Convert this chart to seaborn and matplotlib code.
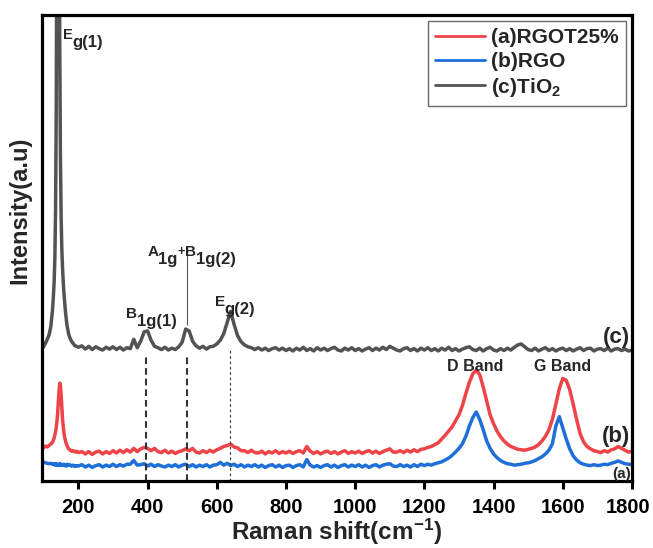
import numpy as np
import pandas as pd
import matplotlib
matplotlib.use("Agg")
import matplotlib.pyplot as plt
from matplotlib.transforms import ScaledTranslation
import seaborn as sns

# Raman shift sampling grid (cm^-1): finer around the strong 140-150 cm^-1 modes
shift = np.concatenate([
    np.arange(95, 126, 5),     # 7 points
    np.arange(128, 173, 2),    # 23 points
    np.arange(175, 201, 5),    # 6 points
    np.arange(210, 1801, 10),  # 160 points
])

# (a) RGOT25% intensities
rgot25 = [
    7.4, 7.2, 7.5, 7.3, 7.6, 7.9, 8.3,
    8.8, 9.3, 9.9, 10.6, 11.5, 12.8, 14.5, 16.8, 19.3, 21.0, 20.6, 18.5,
    15.8, 13.5, 11.8, 10.5, 9.5, 8.8, 8.2, 7.8, 7.4, 7.1, 6.9,
    6.7, 6.4, 6.5, 6.2, 6.4, 6.1,
    6.3, 5.8, 6.3, 5.7, 6.2, 6.4, 5.8, 6.3, 5.9, 6.5,      # 210-300
    6.0, 6.6, 6.1, 6.7, 6.2, 7.0, 6.3, 6.9, 7.2, 7.0,      # 310-400
    6.5, 7.0, 6.3, 6.1, 6.6, 6.0, 6.4, 5.9, 6.3, 6.5,      # 410-500
    6.9, 6.5, 7.0, 6.2, 6.0, 6.5, 6.1, 6.6, 6.2, 6.7,      # 510-600
    7.0, 7.4, 7.6, 7.9, 7.3, 7.1, 6.5, 6.5, 6.1, 6.6,      # 610-700
    6.1, 6.0, 6.4, 5.8, 6.3, 6.0, 6.5, 5.9, 6.3, 6.0,      # 710-800
    6.4, 5.9, 6.3, 6.5, 6.0, 7.4, 6.4, 5.9, 6.3, 5.8,      # 810-900
    6.2, 6.4, 5.9, 6.3, 5.8, 6.2, 6.5, 5.9, 6.3, 6.0,      # 910-1000
    6.4, 5.9, 6.3, 6.5, 6.0, 6.4, 5.9, 6.3, 6.6, 6.9,      # 1010-1100
    6.2, 6.2, 6.5, 6.1, 6.6, 6.2, 6.7, 6.3, 6.8, 6.9,      # 1110-1200
    7.2, 7.4, 7.8, 8.2, 9.0, 9.8, 10.7, 11.6, 12.9, 14.2,  # 1210-1300
    16.2, 18.8, 21.2, 23.0, 23.8, 22.8, 20.2, 17.2, 14.2, 12.3,  # 1310-1400
    10.7, 9.5, 8.6, 7.9, 7.4, 7.1, 6.8, 6.7, 6.6, 6.8,     # 1410-1500
    7.0, 7.3, 7.8, 8.6, 9.6, 11.0, 13.2, 16.5, 19.8, 22.0,  # 1510-1600
    21.6, 19.6, 16.5, 13.2, 10.2, 8.4, 7.4, 6.9, 6.5, 6.3,  # 1610-1700
    6.1, 6.5, 6.2, 6.7, 6.9, 7.4, 7.0, 6.6, 6.2, 6.4,      # 1710-1800
]

# (b) RGO intensities
rgo = [
    4.2, 4.0, 3.9, 3.8, 3.7, 3.8, 3.6,
    3.7, 3.5, 3.6, 3.4, 3.7, 3.5, 3.6, 3.3, 3.5, 3.7, 3.4, 3.6,
    3.3, 3.5, 3.4, 3.6, 3.3, 3.5, 3.2, 3.4, 3.6, 3.3, 3.4,
    3.5, 3.2, 3.4, 3.1, 3.3, 3.2,
    3.5, 3.0, 3.4, 2.9, 3.3, 3.5, 3.0, 3.4, 3.1, 3.6,      # 210-300
    3.1, 3.5, 3.2, 3.6, 3.6, 4.4, 3.4, 3.5, 3.7, 3.2,      # 310-400
    3.6, 3.1, 3.5, 3.2, 3.0, 3.4, 3.1, 3.5, 3.0, 3.4,      # 410-500
    3.6, 3.1, 3.5, 3.0, 3.4, 3.1, 3.5, 3.0, 3.4, 3.5,      # 510-600
    4.0, 3.4, 3.8, 3.3, 3.6, 3.1, 3.5, 3.0, 3.4, 3.1,      # 610-700
    3.5, 3.0, 3.4, 2.9, 3.3, 3.5, 3.0, 3.4, 2.9, 3.3,      # 710-800
    3.4, 2.9, 3.3, 3.5, 3.0, 4.6, 3.4, 3.0, 3.3, 2.9,      # 810-900
    3.3, 3.5, 3.0, 3.4, 2.9, 3.3, 3.5, 3.0, 3.4, 3.1,      # 910-1000
    3.5, 3.0, 3.4, 2.9, 3.3, 3.5, 3.0, 3.4, 3.6, 3.7,      # 1010-1100
    3.2, 3.1, 3.5, 3.1, 3.4, 3.0, 3.5, 3.1, 3.6, 3.3,      # 1110-1200
    3.6, 3.4, 3.7, 3.9, 4.1, 4.5, 4.9, 5.5, 6.2, 7.0,      # 1210-1300
    8.0, 9.6, 11.8, 13.6, 14.8, 13.2, 11.0, 8.6, 7.0, 5.8,  # 1310-1400
    5.0, 4.4, 4.0, 3.7, 3.6, 3.4, 3.5, 3.6, 3.8, 3.9,      # 1410-1500
    4.1, 4.4, 4.8, 5.2, 5.8, 6.6, 8.0, 11.8, 13.8, 11.4,   # 1510-1600
    9.0, 6.9, 5.4, 4.5, 3.9, 3.6, 3.4, 3.3, 3.5, 3.3,      # 1610-1700
    3.4, 3.6, 3.5, 3.8, 4.0, 4.3, 4.0, 3.7, 3.6, 3.5,      # 1710-1800
]

# (c) TiO2 intensities (the 140 cm^-1 Eg(1) peak runs off the top)
tio2 = [
    28.4, 28.9, 29.6, 30.4, 31.3, 33.0, 36.5,
    40.0, 43.0, 48.0, 58.0, 80.0, 130.0, 200.0, 190.0, 140.0, 95.0, 70.0, 57.0,
    50.0, 46.0, 43.0, 40.5, 38.5, 36.8, 35.3, 34.0, 33.0, 32.2, 31.5,
    30.8, 30.0, 29.5, 29.0, 28.9, 28.7,
    29.0, 28.3, 28.9, 28.2, 28.8, 28.4, 28.1, 28.7, 28.3, 28.8,  # 210-300
    28.2, 28.7, 28.1, 28.6, 28.4, 30.4, 28.6, 30.0, 32.0, 32.2,  # 310-400
    30.2, 28.9, 28.6, 28.2, 28.7, 28.1, 28.5, 28.2, 28.8, 29.8,  # 410-500
    32.6, 32.2, 30.0, 29.0, 28.5, 28.9, 28.3, 28.8, 28.9, 29.4,  # 510-600
    30.2, 31.6, 34.0, 36.4, 33.6, 31.2, 29.9, 29.2, 28.8, 28.6,  # 610-700
    28.2, 28.6, 28.1, 28.5, 28.0, 28.4, 28.6, 28.1, 28.5, 28.0,  # 710-800
    28.4, 27.9, 28.5, 28.1, 28.7, 28.0, 28.4, 27.9, 28.6, 28.1,  # 810-900
    28.5, 28.0, 28.4, 28.7, 28.1, 27.9, 28.5, 28.1, 28.6, 28.0,  # 910-1000
    28.4, 27.9, 28.3, 28.6, 28.0, 28.5, 28.1, 28.7, 28.2, 28.9,  # 1010-1100
    28.5, 28.1, 27.9, 28.4, 28.6, 28.0, 28.4, 27.9, 28.5, 28.1,  # 1110-1200
    28.6, 28.0, 28.4, 27.9, 28.5, 28.1, 28.7, 28.0, 28.4, 27.9,  # 1210-1300
    28.3, 28.6, 28.8, 28.2, 28.0, 28.5, 27.9, 28.4, 28.7, 28.1,  # 1310-1400
    27.9, 28.4, 28.0, 28.5, 28.1, 28.7, 29.2, 29.4, 28.8, 28.2,  # 1410-1500
    28.0, 28.5, 27.9, 28.3, 28.6, 28.0, 28.4, 27.9, 28.3, 28.5,  # 1510-1600
    28.0, 28.4, 27.9, 28.3, 28.6, 28.0, 28.4, 28.5, 27.9, 28.3,  # 1610-1700
    28.4, 28.0, 28.5, 27.9, 28.3, 28.4, 28.0, 28.3, 27.9, 28.1,  # 1710-1800
]

series_names = ["(a)RGOT25%", "(b)RGO", "(c)TiO$_2$"]
series_colors = ["#EE4447", "#1F6FD8", "#535353"]

# TiO2 anatase mode positions marked by guide lines (cm^-1)
mode_b1g1 = 394
mode_a1g = 513
mode_eg2 = 637

xticks = [200, 400, 600, 800, 1000, 1200, 1400, 1600, 1800]

sns.set_style("ticks")
plt.rcParams["font.family"] = ["Liberation Sans", "DejaVu Sans"]
plt.rcParams["font.weight"] = "bold"
plt.rcParams["mathtext.default"] = "regular"

df = pd.DataFrame({"shift": shift, "a": rgot25, "b": rgo, "c": tio2})

fig = plt.figure(figsize=(6.53, 5.48), dpi=100)
ax = fig.add_axes([0.0639, 0.1223, 0.9039, 0.8503])

for col, name, color in zip(["a", "b", "c"], series_names, series_colors):
    sns.lineplot(data=df, x="shift", y=col, ax=ax, color=color, lw=2.5,
                 label=name, estimator=None)

ax.set_xlim(94, 1800)
ax.set_ylim(0, 100)
ax.set_xticks(xticks)
ax.set_xticklabels([str(t) for t in xticks])
ax.set_yticks([])

for side in ["left", "right", "top", "bottom"]:
    ax.spines[side].set_visible(True)
    ax.spines[side].set_linewidth(2.3)
    ax.spines[side].set_color("black")
ax.tick_params(axis="x", direction="out", length=6, width=2.2, pad=6,
               labelsize=14.5, colors="black")
for lab in ax.get_xticklabels():
    lab.set_fontweight("bold")
# keep the last label inside the figure edge
last = ax.get_xticklabels()[-1]
last.set_transform(last.get_transform()
                   + ScaledTranslation(-3 / 72, 0, fig.dpi_scale_trans))

ax.set_xlabel("Raman shift(cm$^{-1}$)", fontsize=17.5, fontweight="bold")
ax.xaxis.set_label_coords(0.5, -0.076)
ax.set_ylabel("Intensity(a.u)", fontsize=17, fontweight="bold")
ax.yaxis.set_label_coords(-0.018, 0.58)

leg = ax.legend(loc="upper right", bbox_to_anchor=(0.99, 0.987), fontsize=15,
                frameon=True, fancybox=False, edgecolor="#444444",
                handlelength=2.4, handletextpad=0.3, borderpad=0.35,
                labelspacing=0.22, borderaxespad=0)
leg.get_frame().set_linewidth(1.0)
for txt in leg.get_texts():
    txt.set_fontweight("bold")
for line in leg.get_lines():
    line.set_linewidth(2.0)

# guide lines for the anatase modes
guide_color = "#333333"
ax.vlines([mode_b1g1, mode_a1g], 0, 27, colors=guide_color, lw=1.5,
          linestyles=[(0, (3.2, 1.9))])
ax.vlines([mode_eg2], 0, 28.5, colors=guide_color, lw=0.8,
          linestyles=[(0, (2.4, 2.4))])
ax.vlines([mode_a1g], 33.5, 48.5, colors="#555555", lw=0.8)


def chained_label(x, y, parts):
    """Draw text pieces one after another; each piece is (text, size, dy)."""
    first, size0, _ = parts[0]
    prev = ax.text(x, y, first, fontsize=size0, fontweight="bold",
                   ha="left", va="baseline")
    for text, size, dy in parts[1:]:
        prev = ax.annotate(text, xy=(1, y), xycoords=(prev, "data"),
                           xytext=(0, dy), textcoords="offset points",
                           fontsize=size, fontweight="bold",
                           ha="left", va="baseline")


chained_label(155, 94.8, [("E", 10.5, 0), ("g(1)", 12, -5.5)])
chained_label(339, 35.0, [("B", 11, 0), ("1g(1)", 12, -5.5)])
chained_label(399, 48.2, [("A", 11, 0), ("1g", 12, -5.5), ("+", 9, 1.0),
                          ("B", 11, 0), ("1g(2)", 12, -5.5)])
chained_label(594, 37.5, [("E", 11, 0), ("g(2)", 12, -5.5)])

ax.text(1348, 23.6, "D Band", fontsize=11.5, fontweight="bold",
        ha="center", va="baseline")
ax.text(1600, 23.6, "G Band", fontsize=11.5, fontweight="bold",
        ha="center", va="baseline")

ax.text(1795, 30.8, "(c)", fontsize=16, fontweight="bold", ha="right", va="center")
ax.text(1795, 9.5, "(b)", fontsize=16, fontweight="bold", ha="right", va="center")
ax.text(1797, 1.6, "(a)", fontsize=11, fontweight="bold", ha="right", va="center")

fig.savefig("out.png", dpi=100)
